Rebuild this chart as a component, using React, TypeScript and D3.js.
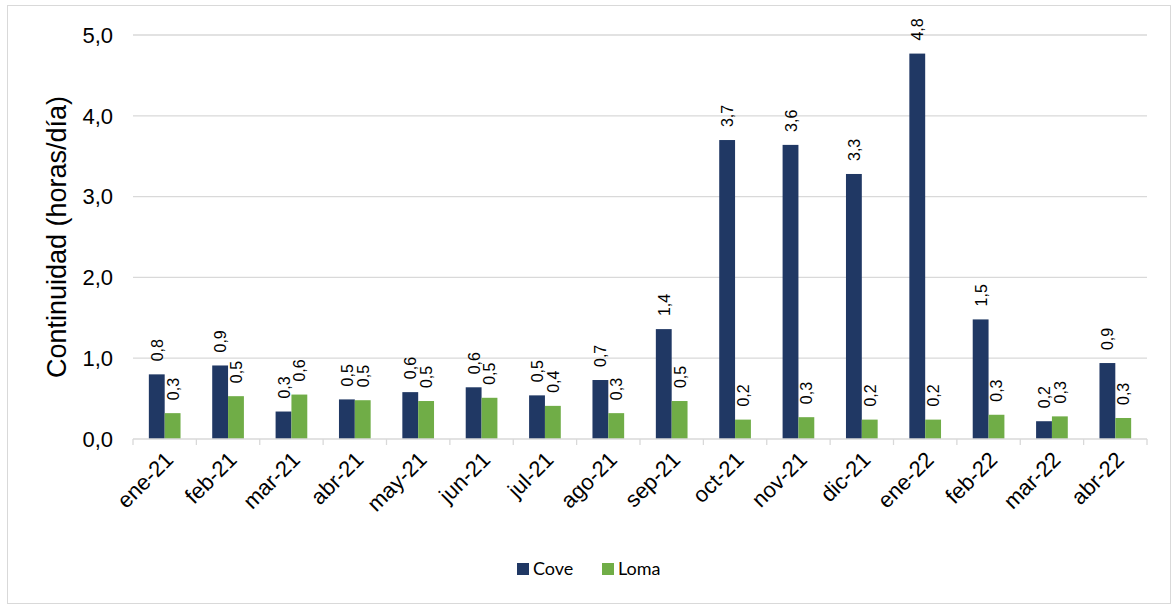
import React from "react";
import * as d3 from "d3";

const months = [
  "ene-21", "feb-21", "mar-21", "abr-21", "may-21", "jun-21", "jul-21", "ago-21",
  "sep-21", "oct-21", "nov-21", "dic-21", "ene-22", "feb-22", "mar-22", "abr-22",
];
const cove = [0.8, 0.91, 0.34, 0.49, 0.58, 0.64, 0.54, 0.73, 1.36, 3.7, 3.64, 3.28, 4.77, 1.48, 0.22, 0.94];
const loma = [0.32, 0.53, 0.55, 0.48, 0.47, 0.51, 0.41, 0.32, 0.47, 0.24, 0.27, 0.24, 0.24, 0.3, 0.28, 0.26];
const yTicks = [0, 1, 2, 3, 4, 5];
const seriesNames = ["Cove", "Loma"];
const colors = ["#203864", "#70ad47"];

const W = 1171;
const H = 606;
const plot = { left: 133, right: 1147, top: 35, bottom: 439 };

const fmt = (v: number) => v.toFixed(1).replace(".", ",");

export default function App() {
  const x = d3.scaleBand<string>().domain(months).range([plot.left, plot.right]);
  const y = d3.scaleLinear().domain([0, 5]).range([plot.bottom, plot.top]);
  const barW = x.bandwidth() / 4;
  const series = [cove, loma];

  return (
    <div style={{ position: "fixed", left: 0, top: 0 }}>
      <svg width={W} height={H} style={{ display: "block", fontFamily: "'Liberation Sans', Arial, sans-serif" }}>
        <rect x={0} y={0} width={W} height={H} fill="white" />
        <rect x={7.5} y={5.5} width={1163} height={598} fill="none" stroke="#d9d9d9" />

        {/* grid + y axis labels */}
        {yTicks.map((t) => (
          <g key={t}>
            {t > 0 && (
              <line x1={plot.left} x2={plot.right} y1={y(t)} y2={y(t)} stroke="#d9d9d9" strokeWidth={1.3} />
            )}
            <text x={113} y={y(t)} dy="0.35em" textAnchor="end" fontSize={22} fill="#000">
              {fmt(t)}
            </text>
          </g>
        ))}

        {/* bars */}
        {series.map((vals, si) =>
          vals.map((v, i) => {
            const bx = x(months[i])! + x.bandwidth() / 2 - barW + si * barW;
            return (
              <g key={`${si}-${i}`}>
                <rect x={bx} y={y(v)} width={barW} height={y(0) - y(v)} fill={colors[si]} />
                <text
                  transform={`translate(${bx + barW / 2 + 6},${y(v) - 13}) rotate(-90)`}
                  fontSize={16}
                  fill="#000"
                >
                  {fmt(v)}
                </text>
              </g>
            );
          })
        )}

        {/* x axis */}
        <line x1={plot.left} x2={plot.right} y1={plot.bottom} y2={plot.bottom} stroke="#d9d9d9" strokeWidth={1.3} />
        {d3.range(months.length + 1).map((i) => {
          const tx = plot.left + i * x.step();
          return <line key={i} x1={tx} x2={tx} y1={plot.bottom} y2={plot.bottom + 6} stroke="#d9d9d9" strokeWidth={1.3} />;
        })}
        {months.map((m) => (
          <text
            key={m}
            transform={`translate(${x(m)! + x.bandwidth() / 2 + 10},${plot.bottom + 22}) rotate(-45)`}
            textAnchor="end"
            fontSize={22}
            fill="#000"
          >
            {m}
          </text>
        ))}

        {/* y title */}
        <text transform={`translate(66,${(plot.top + plot.bottom) / 2}) rotate(-90)`} textAnchor="middle" fontSize={27} fill="#000">
          Continuidad (horas/día)
        </text>

        {/* legend */}
        {seriesNames.map((s, i) => {
          const lx = 517 + i * 85;
          return (
            <g key={s}>
              <rect x={lx} y={563} width={12} height={12} fill={colors[i]} />
              <text x={lx + 16} y={569} dy="0.35em" fontSize={18} fontFamily="Lato, 'Open Sans', sans-serif" fill="#000">
                {s}
              </text>
            </g>
          );
        })}
      </svg>
    </div>
  );
}
